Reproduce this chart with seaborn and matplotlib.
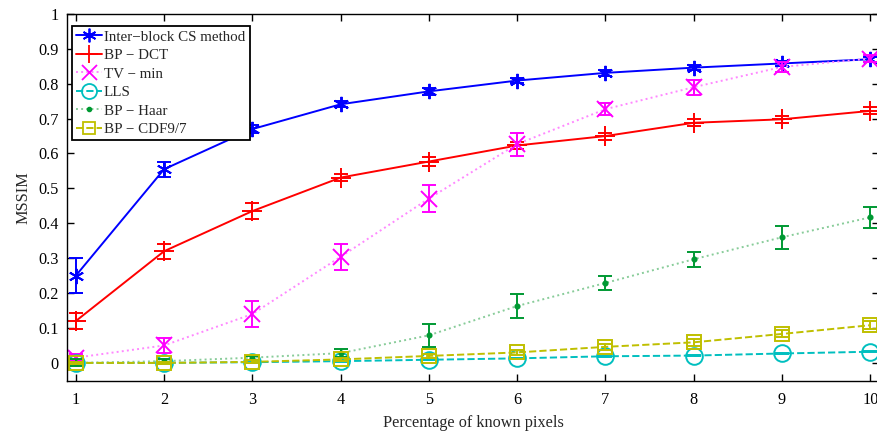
import numpy as np
import pandas as pd
import seaborn as sns
from matplotlib import pyplot as plt
from matplotlib.ticker import FormatStrFormatter

# percentage of known pixels
pct = [1, 2, 3, 4, 5, 6, 7, 8, 9, 10]

# MSSIM means and error bar half-widths
inter_block = [0.25, 0.555, 0.67, 0.741, 0.778, 0.809, 0.831, 0.846, 0.858, 0.870]
inter_block_err = [0.05, 0.022, 0.012, 0.009, 0.009, 0.008, 0.008, 0.007, 0.007, 0.007]
bp_dct = [0.12, 0.32, 0.435, 0.531, 0.577, 0.623, 0.650, 0.688, 0.698, 0.722]
bp_dct_err = [0.022, 0.022, 0.022, 0.011, 0.012, 0.011, 0.01, 0.01, 0.01, 0.01]
tv_min = [0.015, 0.05, 0.14, 0.304, 0.471, 0.627, 0.727, 0.79, 0.848, 0.872]
tv_min_err = [0.01, 0.022, 0.037, 0.038, 0.04, 0.033, 0.017, 0.022, 0.014, 0.01]
lls = [0.0, 0.0, 0.002, 0.005, 0.009, 0.013, 0.019, 0.021, 0.027, 0.032]
lls_err = [0.002, 0.002, 0.002, 0.002, 0.002, 0.002, 0.002, 0.002, 0.002, 0.002]
bp_haar = [0.0, 0.005, 0.015, 0.028, 0.079, 0.163, 0.229, 0.297, 0.36, 0.417]
bp_haar_err = [0.01, 0.006, 0.006, 0.012, 0.033, 0.034, 0.021, 0.021, 0.033, 0.03]
bp_cdf = [0.0, 0.0, 0.003, 0.01, 0.02, 0.03, 0.046, 0.059, 0.083, 0.108]
bp_cdf_err = [0.004, 0.004, 0.004, 0.004, 0.006, 0.008, 0.008, 0.01, 0.01, 0.012]

names = ["Inter\u2212block CS method", "BP \u2212 DCT", "TV \u2212 min", "LLS",
         "BP \u2212 Haar", "BP \u2212 CDF9/7"]
means = [inter_block, bp_dct, tv_min, lls, bp_haar, bp_cdf]
errs = [inter_block_err, bp_dct_err, tv_min_err, lls_err, bp_haar_err, bp_cdf_err]

colors = ["#0000ff", "#ff0000", "#ff00ff", "#00bfbf", "#009933", "#bfbf00"]
line_colors = ["#0000ff", "#ff0000", "#ff88ff", "#00bfbf", "#88cc99", "#bfbf00"]
markers = [(6, 2, 0), "+", "x", "o", ".", "s"]
msizes = [11, 14, 12, 12, 6, 10]
lstyles = ["-", "-", ":", "--", ":", "--"]

sns.set_style("ticks")
plt.rcParams['font.family'] = ['Liberation Serif', 'DejaVu Serif']
plt.rcParams['font.size'] = 11.7
plt.rcParams['axes.linewidth'] = 1.0

fig = plt.figure(figsize=(8.77, 4.34), dpi=100)
ax = fig.add_axes([0.0764, 0.122, 0.926, 0.846])

handles = []
for name, m, e, c, lc, mk, ms, ls in zip(names, means, errs, colors, line_colors,
                                          markers, msizes, lstyles):
    df = pd.DataFrame({"pct": pct, "mssim": m})
    sns.lineplot(data=df, x="pct", y="mssim", ax=ax, color=lc, linestyle=ls,
                 linewidth=1.4, errorbar=None)
    ax.errorbar(pct, m, yerr=e, fmt="none", ecolor=c, elinewidth=1.4,
                capsize=5, capthick=1.4)
    open_face = mk in ("o", "s")
    ax.plot(pct, m, linestyle="none", marker=mk, markersize=ms, color=c,
            markerfacecolor="none" if open_face else c, markeredgewidth=1.4)
    h, = ax.plot([], [], linestyle=ls, color=lc, linewidth=1.4, marker=mk,
                 markersize=ms * 0.9, markeredgecolor=c,
                 markerfacecolor="none" if open_face else c, markeredgewidth=1.3)
    handles.append(h)

ax.set_xlim(0.9, 10.1)
ax.set_ylim(-0.052, 1.0)
ax.set_xticks(pct)
ax.set_yticks(np.arange(0, 1.01, 0.1))
ax.yaxis.set_major_formatter(FormatStrFormatter('%g'))
ax.tick_params(direction="in", top=True, right=True, length=5, width=1,
               labelsize=11.7, colors="black")
ax.tick_params(axis="x", pad=8)
ax.tick_params(axis="y", pad=6)
for s in ax.spines.values():
    s.set_visible(True)
    s.set_color("black")

ax.set_xlabel("Percentage of known pixels", fontsize=11.7, labelpad=5)
ax.set_ylabel("MSSIM", fontsize=11.7, labelpad=5)

leg = ax.legend(handles, names, loc="upper left", bbox_to_anchor=(0.0, 0.98),
                fontsize=10.8, frameon=True, fancybox=False, edgecolor="black",
                framealpha=1, borderpad=0.3, labelspacing=0.33,
                handlelength=1.7, handletextpad=0.15, borderaxespad=0.3)
leg.get_frame().set_linewidth(1.3)

plt.savefig("out.png", dpi=100)
